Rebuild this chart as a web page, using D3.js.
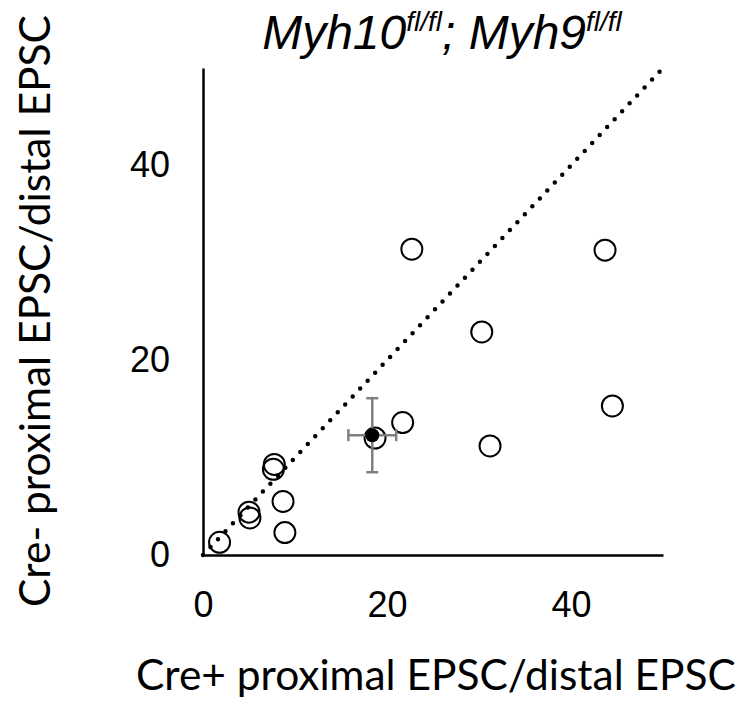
<!DOCTYPE html>
<html><head><meta charset="utf-8">
<script src="https://cdn.jsdelivr.net/npm/d3@7"></script>
<style>
html,body{margin:0;padding:0;background:#fff;}
svg{display:block;}
</style></head>
<body>
<svg id="chart" width="749" height="703"></svg>
<script>
// Data
const creX = [22.7, 43.7, 30.3, 44.5, 21.7, 18.7, 31.2, 7.75, 7.65, 8.7, 5.0, 5.1, 8.9, 1.8];
const creY = [31.4, 31.3, 22.9, 15.3, 13.6, 12.0, 11.2, 9.3, 8.8, 5.5, 4.4, 3.8, 2.3, 1.3];
const meanX = [18.4];
const meanY = [12.3];
const errX = [2.6];
const errY = [3.8];
const xTicks = [0, 20, 40];
const yTicks = [0, 20, 40];
const unityLine = [[0, 0], [50, 50]];

const svg = d3.select("#chart");
const m = {left: 203, right: 663, top: 68, bottom: 555};
const x = d3.scaleLinear().domain([0, 50]).range([m.left, m.right]);
const y = d3.scaleLinear().domain([0, 50]).range([m.bottom, m.top]);

// axes
const xAxis = svg.append("g").attr("transform", `translate(0,${m.bottom})`)
  .call(d3.axisBottom(x).tickValues(xTicks).tickSize(0).tickPadding(36).tickSizeOuter(0));
const yAxis = svg.append("g").attr("transform", `translate(${m.left},0)`)
  .call(d3.axisLeft(y).tickValues(yTicks).tickSize(0).tickPadding(33).tickSizeOuter(0));
[xAxis, yAxis].forEach(g => {
  g.select(".domain").attr("stroke", "#000").attr("stroke-width", 2.5);
  g.selectAll("text").attr("font-family", "Liberation Sans, Arial, sans-serif")
    .attr("font-size", 36).attr("fill", "#000");
});
xAxis.selectAll("text").attr("dy", "0.71em");

// unity dotted line
svg.append("path")
  .attr("d", d3.line().x(d => x(d[0])).y(d => y(d[1]))(unityLine))
  .attr("fill", "none").attr("stroke", "#000").attr("stroke-width", 4.5)
  .attr("stroke-linecap", "round").attr("stroke-dasharray", "0 10.9");

// open circles
const pts = creX.map((v, i) => ({x: v, y: creY[i]}));
svg.append("g").selectAll("circle").data(pts).join("circle")
  .attr("cx", d => x(d.x)).attr("cy", d => y(d.y)).attr("r", 10.5)
  .attr("fill", "none").attr("stroke", "#000").attr("stroke-width", 2);

// mean with error bars
const eb = svg.append("g").attr("stroke", "#7f7f7f").attr("stroke-width", 2.5);
meanX.forEach((mx, i) => {
  const my = meanY[i], ex = errX[i], ey = errY[i], cap = 6;
  eb.append("line").attr("x1", x(mx)).attr("x2", x(mx)).attr("y1", y(my - ey)).attr("y2", y(my + ey));
  eb.append("line").attr("x1", x(mx) - cap).attr("x2", x(mx) + cap).attr("y1", y(my - ey)).attr("y2", y(my - ey));
  eb.append("line").attr("x1", x(mx) - cap).attr("x2", x(mx) + cap).attr("y1", y(my + ey)).attr("y2", y(my + ey));
  eb.append("line").attr("x1", x(mx - ex)).attr("x2", x(mx + ex)).attr("y1", y(my)).attr("y2", y(my));
  eb.append("line").attr("x1", x(mx - ex)).attr("x2", x(mx - ex)).attr("y1", y(my) - cap).attr("y2", y(my) + cap);
  eb.append("line").attr("x1", x(mx + ex)).attr("x2", x(mx + ex)).attr("y1", y(my) - cap).attr("y2", y(my) + cap);
  svg.append("circle").attr("cx", x(mx)).attr("cy", y(my)).attr("r", 7).attr("fill", "#000");
});

// title
const tfs = 48, sfs = 28, sup = 18;
const title = svg.append("text").attr("x", 442).attr("y", 49).attr("text-anchor", "middle")
  .attr("font-family", "Liberation Sans, Arial, sans-serif").attr("font-style", "italic")
  .attr("font-size", tfs).attr("fill", "#000");
title.append("tspan").text("Myh10");
title.append("tspan").text("fl/fl").attr("font-size", sfs).attr("dy", -sup);
title.append("tspan").text("; Myh9").attr("dy", sup);
title.append("tspan").text("fl/fl").attr("font-size", sfs).attr("dy", -sup);

// axis titles
const fit = (sel, w) => {
  const len = sel.node().getComputedTextLength();
  sel.attr("font-size", 40 * w / len);
};
const xt = svg.append("text").attr("x", 436).attr("y", 690).attr("text-anchor", "middle")
  .attr("font-family", "Lato, Open Sans, sans-serif").attr("font-size", 40).attr("fill", "#000")
  .text("Cre+ proximal EPSC/distal EPSC");
fit(xt, 600);
const yt = svg.append("text").attr("transform", "translate(50,311) rotate(-90)").attr("text-anchor", "middle")
  .attr("font-family", "Lato, Open Sans, sans-serif").attr("font-size", 40).attr("fill", "#000")
  .text("Cre- proximal EPSC/distal EPSC");
fit(yt, 592);
</script>
</body></html>
